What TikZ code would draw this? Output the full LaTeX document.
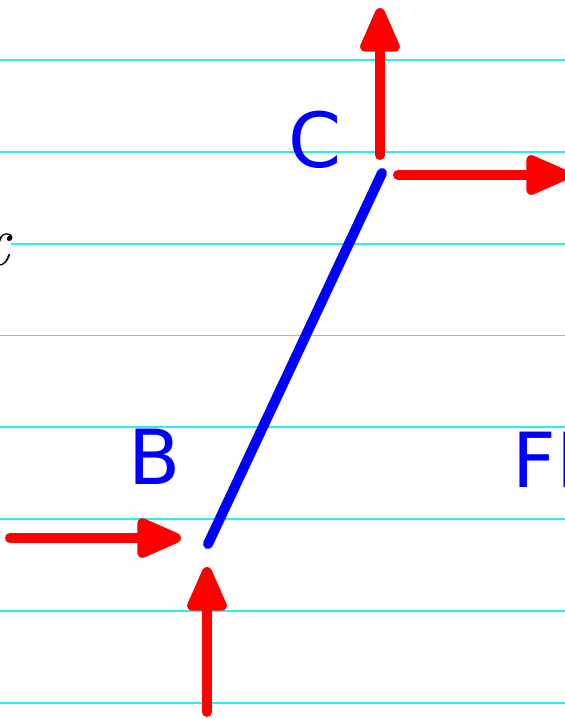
\documentclass[tikz,border=0pt]{standalone}
\usepackage{fontspec}
\newfontfamily\labelfont{DejaVu Sans}
\usetikzlibrary{arrows.meta}
\definecolor{paperline}{RGB}{40,240,240}

\begin{document}
\begin{tikzpicture}[x=0.5pt,y=-0.5pt,
  ruled/.style={paperline,line width=0.9pt},
  force/.style={red,line width=5pt,line cap=round,-{Triangle[length=26pt,width=21pt,round]}},
  member/.style={blue,line width=5pt,line cap=round},
  joint/.style={blue,inner sep=0pt,font=\labelfont\fontsize{38}{40}\selectfont}]
\useasboundingbox (0,0) rectangle (565,719);
\clip (0,0) rectangle (565,719);
% ruled paper
\foreach \k in {0,...,7}
  \draw[ruled] (0,60+91.8*\k)--(565,60+91.8*\k);
\node[anchor=east,fill=white,inner sep=1pt,font=\itshape\fontsize{36}{36}\selectfont] (x) at (11,250) {x};
% member BC
\coordinate (C) at (382,173);
\coordinate (B) at (208,544);
\draw[member] (B)--(C);
\node[joint] (Clab) at (315,140) {C};
\node[joint] (Blab) at (155,457) {B};
\node[joint,anchor=west] (FB) at (512,460) {FB};
% forces at C
\coordinate (Cv0) at (380,155);
\coordinate (Cv1) at (380,8);
\coordinate (Ch0) at (398,175);
\coordinate (Ch1) at (570,175);
\draw[force] (Cv0)--(Cv1);
\draw[force] (Ch0)--(Ch1);
% forces at B
\coordinate (Bh0) at (10,538);
\coordinate (Bh1) at (181,538);
\coordinate (Bv0) at (207,712);
\coordinate (Bv1) at (207,567);
\draw[force] (Bh0)--(Bh1);
\draw[force] (Bv0)--(Bv1);
\end{tikzpicture}
\end{document}
